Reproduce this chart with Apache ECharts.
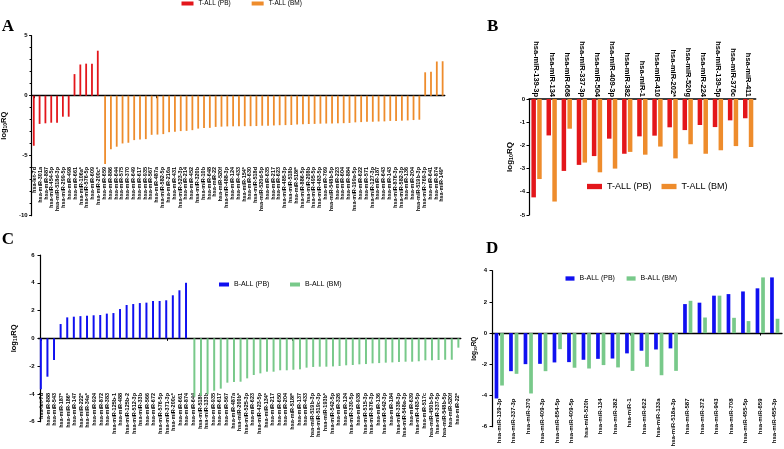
<!DOCTYPE html>
<html><head><meta charset="utf-8">
<script src="https://cdn.jsdelivr.net/npm/echarts@6/dist/echarts.min.js"></script>
<style>html,body{margin:0;padding:0;background:#fff}#c{width:784px;height:449px}</style>
</head><body><div id="c"></div>
<script>
// ---------- Panel A ----------
const aPBCategories = ['hsa-let-7d','hsa-miR-301a','hsa-miR-887','hsa-miR-454-5p','hsa-miR-518d-3p','hsa-miR-299-5p','hsa-miR-498','hsa-miR-661','hsa-miR-106a*','hsa-miR-576-5p','hsa-miR-609','hsa-miR-200c*'];
const aPBValues = [-4.17,-2.35,-2.3,-2.25,-2.25,-1.75,-1.75,1.8,2.6,2.67,2.67,3.75];
const aBMCategories = ['hsa-miR-659','hsa-miR-886','hsa-miR-644','hsa-miR-575','hsa-miR-370','hsa-miR-649','hsa-miR-617','hsa-miR-935','hsa-miR-567','hsa-miR-487a','hsa-miR-582-5p','hsa-miR-216a','hsa-miR-431','hsa-miR-523-3p','hsa-miR-214','hsa-miR-452','hsa-miR-320b','hsa-miR-10b','hsa-miR-648','hsa-miR-22','hsa-miR-520f','hsa-miR-488-3p','hsa-miR-124','hsa-miR-433','hsa-miR-154*','hsa-miR-630','hsa-miR-518d','hsa-miR-520d-5p','hsa-miR-635','hsa-miR-217','hsa-miR-623','hsa-miR-485-3p','hsa-miR-518b','hsa-miR-518f*','hsa-miR-886-5p','hsa-miR-208b','hsa-miR-495-5p','hsa-miR-483-5p','hsa-miR-769','hsa-miR-548b-5p','hsa-miR-223','hsa-miR-604','hsa-miR-884','hsa-miR-199a-5p','hsa-miR-622','hsa-miR-571','hsa-miR-127-3p','hsa-miR-187','hsa-miR-643','hsa-miR-143','hsa-miR-876-3p','hsa-miR-582-3p','hsa-miR-136','hsa-miR-204','hsa-miR-519b-3p','hsa-miR-769-3p','hsa-miR-641','hsa-miR-874','hsa-miR-149*'];
const aBMValues = [-5.69,-4.47,-4.25,-3.98,-3.92,-3.7,-3.65,-3.62,-3.26,-3.24,-3.2,-3.04,-3.0,-2.95,-2.93,-2.87,-2.74,-2.7,-2.68,-2.6,-2.58,-2.56,-2.55,-2.55,-2.54,-2.54,-2.53,-2.5,-2.5,-2.48,-2.46,-2.45,-2.44,-2.4,-2.38,-2.36,-2.35,-2.33,-2.32,-2.31,-2.3,-2.29,-2.27,-2.22,-2.2,-2.18,-2.17,-2.15,-2.14,-2.1,-2.1,-2.08,-2.06,-2.03,-2.0,1.95,2.0,2.85,2.87];
const aYTicks = {min:-10, max:5, interval:5};

// ---------- Panel B ----------
const bCategories = ['hsa-miR-139-3p','hsa-miR-134','hsa-miR-668','hsa-miR-337-3p','hsa-miR-504','hsa-miR-409-3p','hsa-miR-382','hsa-miR-1','hsa-miR-410','hsa-miR-202*','hsa-miR-520g','hsa-miR-224','hsa-miR-139-5p','hsa-miR-376c','hsa-miR-411'];
const bPBValues = [-4.24,-1.57,-3.1,-2.84,-2.46,-1.71,-2.36,-1.61,-1.58,-1.22,-1.34,-1.12,-1.21,-0.92,-0.83];
const bBMValues = [-3.45,-4.42,-1.28,-2.74,-3.16,-3.0,-2.28,-2.4,-2.05,-2.56,-1.95,-2.36,-2.21,-2.03,-2.07];
const bYTicks = {min:-5, max:0, interval:1};

// ---------- Panel C ----------
const cPBCategories = ['hsa-let-7d','hsa-miR-888','hsa-miR-543','hsa-miR-187*','hsa-miR-186*','hsa-miR-147','hsa-miR-222*','hsa-miR-34a*','hsa-miR-924','hsa-miR-872','hsa-miR-383','hsa-miR-125b-1','hsa-miR-488','hsa-miR-125b-2','hsa-miR-512-3p','hsa-miR-33b','hsa-miR-566','hsa-miR-672','hsa-miR-576-5p','hsa-miR-371-3p','hsa-miR-200c*','hsa-miR-661','hsa-miR-874'];
const cPBValues = [-3.67,-2.76,-1.56,1.03,1.51,1.56,1.6,1.63,1.66,1.68,1.78,1.82,2.11,2.4,2.47,2.54,2.57,2.69,2.69,2.74,3.1,3.46,4.0];
const cBMCategories = ['hsa-miR-644','hsa-miR-518b','hsa-miR-133b','hsa-miR-935','hsa-miR-617','hsa-miR-567','hsa-miR-487a','hsa-miR-200b*','hsa-miR-525-3p','hsa-miR-623','hsa-miR-423-5p','hsa-miR-134*','hsa-miR-217','hsa-miR-650','hsa-miR-204','hsa-miR-518f*','hsa-miR-137','hsa-miR-433','hsa-miR-519b-3p','hsa-miR-519c-3p','hsa-miR-193b*','hsa-miR-542-5p','hsa-miR-326','hsa-miR-124','hsa-miR-330-5p','hsa-miR-938','hsa-miR-515-3p','hsa-miR-876-3p','hsa-miR-136','hsa-miR-542-3p','hsa-miR-184','hsa-miR-338-3p','hsa-miR-548a-3p','hsa-miR-639','hsa-miR-483-5p','hsa-miR-517c','hsa-miR-450b-5p','hsa-miR-337-5p','hsa-miR-548b-5p','hsa-miR-520f','hsa-miR-22*'];
const cBMValues = [-4.2,-4.13,-4.03,-3.77,-3.62,-3.19,-3.14,-3.12,-2.88,-2.64,-2.52,-2.4,-2.4,-2.3,-2.3,-2.26,-2.23,-2.11,-2.06,-2.04,-2.04,-2.02,-1.99,-1.94,-1.92,-1.87,-1.85,-1.8,-1.78,-1.75,-1.73,-1.7,-1.68,-1.68,-1.65,-1.58,-1.58,-1.56,-1.54,-1.54,-0.67];
const cYTicks = {min:-6, max:6, interval:2};

// ---------- Panel D ----------
const dCategories = ['hsa-miR-139-3p','hsa-miR-337-3p','hsa-miR-370','hsa-miR-409-3p','hsa-miR-654-5p','hsa-miR-409-5p','hsa-miR-520h','hsa-miR-134','hsa-miR-382','hsa-miR-1','hsa-miR-622','hsa-miR-133a','hsa-miR-518a-3p','hsa-miR-587','hsa-miR-372','hsa-miR-943','hsa-miR-708','hsa-miR-455-5p','hsa-miR-659','hsa-miR-455-3p'];
const dPBValues = [-4.19,-2.44,-1.99,-1.97,-1.88,-1.86,-1.71,-1.65,-1.63,-1.3,-1.13,-1.05,-0.98,1.86,1.95,2.4,2.5,2.67,2.87,3.57];
const dBMValues = [-3.36,-2.61,-3.87,-2.44,-1.03,-2.22,-2.27,-2.05,-2.2,-2.42,-2.16,-2.7,-2.42,2.07,1.0,2.4,0.98,0.77,3.57,0.92];
const dYTicks = {min:-6, max:4, interval:2};

const RED = '#e3161b', ORANGE = '#ee8c2c', BLUE = '#1010f0', GREEN = '#78c98a';
const FF = '"Liberation Sans", Arial, sans-serif';
const blanks = n => Array(n).fill('-');

const aCats = aPBCategories.concat(aBMCategories);
const cCats = cPBCategories.concat(cBMCategories);

function yAxisCfg(grid, t, nameGap, nameSize, labelMargin, offset, minor) {
  return {
    type:'value', gridIndex:grid, min:t.min, max:t.max, interval:t.interval, offset: offset||0,
    name:'log{s|10}RQ', nameLocation:'middle', nameGap:nameGap, nameRotate:90,
    nameTextStyle:{color:'#000', fontFamily:FF, fontSize:nameSize, fontWeight:'bold',
      rich:{s:{fontSize:nameSize*0.65, fontFamily:FF, fontWeight:'bold', color:'#000', padding:[nameSize*0.45,0,0,0]}}},
    axisLine:{show:true, onZero:false, lineStyle:{color:'#000', width:1.2}},
    axisTick:{show:true, length:2.5, lineStyle:{color:'#000', width:1}},
    minorTick: minor ? {show:true, splitNumber:5, length:2, lineStyle:{color:'#000', width:1}} : {show:false},
    axisLabel:{color:'#000', fontFamily:FF, fontSize:6, fontWeight:'bold', margin:labelMargin},
    splitLine:{show:false}
  };
}
function zeroAxis(grid, cats, tickLen) {
  return {type:'category', gridIndex:grid, data:cats, position:'bottom',
    axisLine:{show:true, onZero:true, lineStyle:{color:'#000', width:1.3}},
    axisTick:{show:tickLen>0, alignWithLabel:true, length:tickLen, lineStyle:{color:'#000', width:1}},
    axisLabel:{show:false}, splitLine:{show:false}};
}
function labelAxis(grid, cats, offset, fontSize) {
  return {type:'category', gridIndex:grid, data:cats, position:'bottom', offset:offset,
    axisLine:{show:false, onZero:false}, axisTick:{show:false},
    axisLabel:{show:true, interval:0, rotate:90, margin:2, color:'#000', fontFamily:FF, fontSize:fontSize, fontWeight:'bold'},
    splitLine:{show:false}};
}
function legendCfg(names, colors, left, top, iw, ih, gap, fs) {
  return {data:names.map((n,i)=>({name:n, itemStyle:{color:colors[i]}})), left:left, top:top, orient:'horizontal',
    itemWidth:iw, itemHeight:ih, itemGap:gap, padding:0, icon:'rect', selectedMode:false,
    textStyle:{color:'#000', fontFamily:FF, fontSize:fs}};
}

const option = {
  animation:false,
  backgroundColor:'#fff',
  grid:[
    {left:31.6, top:35.7, width:413.2, height:180, outerBoundsMode:'none', containLabel:false},
    {left:529, top:99, width:226.7, height:116, outerBoundsMode:'none', containLabel:false},
    {left:38.4, top:255, width:422.4, height:166.7, outerBoundsMode:'none', containLabel:false},
    {left:492, top:270.7, width:290, height:156, outerBoundsMode:'none', containLabel:false}
  ],
  xAxis:[
    zeroAxis(0, aCats, 2.5),
    labelAxis(0, aCats, -50.7, 5.5),
    {type:'category', gridIndex:1, data:bCategories, position:'top',
      axisLine:{show:true, onZero:false, lineStyle:{color:'#000', width:1.5}},
      axisTick:{show:false},
      axisLabel:{show:true, interval:0, rotate:90, margin:2, color:'#000', fontFamily:FF, fontSize:7.5, fontWeight:'bold'},
      splitLine:{show:false}},
    zeroAxis(2, cCats, 2.5),
    labelAxis(2, cCats, -30.7, 5.5),
    zeroAxis(3, dCategories, 2.5),
    labelAxis(3, dCategories, -30.2, 6)
  ],
  yAxis:[
    yAxisCfg(0, aYTicks, 7, 7.5, 4, 0, true),
    yAxisCfg(1, bYTicks, 15, 8, 4, 0, false),
    yAxisCfg(2, cYTicks, 12.7, 7.5, 5.5, -1.6, false),
    yAxisCfg(3, dYTicks, 14, 6.5, 5, 0, false)
  ],
  legend:[
    legendCfg(['T-ALL (PB)','T-ALL (BM)'], [RED, ORANGE], 181.5, 0, 12, 4, 21, 6.5),
    legendCfg(['T-ALL (PB)','T-ALL (BM)'], [RED, ORANGE], 587, 182, 15, 5.3, 10, 9),
    legendCfg(['B-ALL (PB)','B-ALL (BM)'], [BLUE, GREEN], 219, 281, 10, 4, 20.6, 7),
    legendCfg(['B-ALL (PB)','B-ALL (BM)'], [BLUE, GREEN], 565.5, 275, 9, 4.3, 11.7, 7)
  ],
  series:[
    {type:'bar', name:'T-ALL (PB)', xAxisIndex:0, yAxisIndex:0, data:aPBValues.concat(blanks(aBMValues.length)), barWidth:1.8, barGap:'-18%', itemStyle:{color:RED}},
    {type:'bar', name:'T-ALL (BM)', xAxisIndex:0, yAxisIndex:0, data:blanks(aPBValues.length).concat(aBMValues), barWidth:1.8, barGap:'-18%', itemStyle:{color:ORANGE}},
    {type:'bar', name:'T-ALL (PB)', xAxisIndex:2, yAxisIndex:1, data:bPBValues, barWidth:4.5, barGap:'29%', itemStyle:{color:RED}},
    {type:'bar', name:'T-ALL (BM)', xAxisIndex:2, yAxisIndex:1, data:bBMValues, barWidth:4.5, barGap:'29%', itemStyle:{color:ORANGE}},
    {type:'bar', name:'B-ALL (PB)', xAxisIndex:3, yAxisIndex:2, data:cPBValues.concat(blanks(cBMValues.length)), barWidth:2, barGap:'-13%', itemStyle:{color:BLUE}},
    {type:'bar', name:'B-ALL (BM)', xAxisIndex:3, yAxisIndex:2, data:blanks(cPBValues.length).concat(cBMValues), barWidth:2, barGap:'-13%', itemStyle:{color:GREEN}},
    {type:'bar', name:'B-ALL (PB)', xAxisIndex:5, yAxisIndex:3, data:dPBValues, barWidth:3.7, barGap:'50%', itemStyle:{color:BLUE}},
    {type:'bar', name:'B-ALL (BM)', xAxisIndex:5, yAxisIndex:3, data:dBMValues, barWidth:3.7, barGap:'50%', itemStyle:{color:GREEN}}
  ],
  graphic:[
    {type:'text', left:1.7, top:18, style:{text:'A', font:'bold 17px "Liberation Serif", serif', fill:'#000'}},
    {type:'text', left:487, top:18, style:{text:'B', font:'bold 17px "Liberation Serif", serif', fill:'#000'}},
    {type:'text', left:1.7, top:231.5, style:{text:'C', font:'bold 17px "Liberation Serif", serif', fill:'#000'}},
    {type:'text', left:486, top:240.5, style:{text:'D', font:'bold 17px "Liberation Serif", serif', fill:'#000'}}
  ]
};
const chart = echarts.init(document.getElementById('c'), null, {renderer:'canvas'});
chart.setOption(option);
</script>
</body></html>
